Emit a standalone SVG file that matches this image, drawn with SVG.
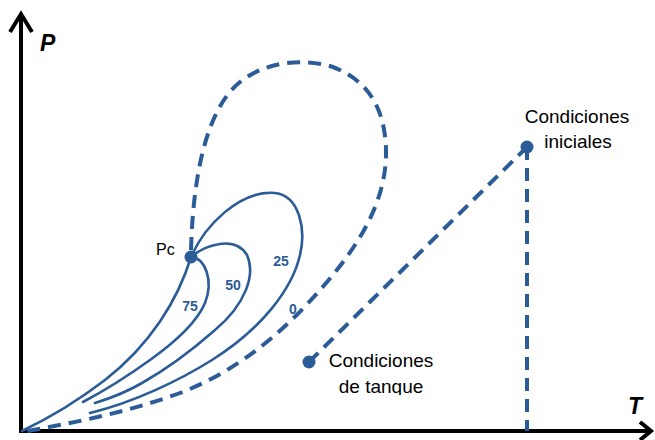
<svg xmlns="http://www.w3.org/2000/svg" width="655" height="440" viewBox="0 0 655 440">
<style>
.ax{fill:none;stroke:#000;stroke-width:4;stroke-linecap:butt;stroke-linejoin:miter}
.sol{fill:none;stroke:#2b5c97;stroke-width:2.6;stroke-linecap:round}
.dash{fill:none;stroke:#2b5c97;stroke-width:4;stroke-dasharray:13 8}
.dot{fill:#2b5c97}
.axl{font-family:"Liberation Sans",Arial,sans-serif;font-weight:bold;font-style:italic;font-size:23px;fill:#000}
.num{font-family:"Liberation Sans",Arial,sans-serif;font-weight:bold;font-size:14px;fill:#2b5c97;text-anchor:middle}
.lbl{font-family:"Liberation Sans",Arial,sans-serif;font-size:19px;fill:#000;text-anchor:middle}
</style>
<defs>
<clipPath id="cut"><rect x="0" y="0" width="655" height="395"/></clipPath>
</defs>
<rect width="655" height="440" fill="#fff"/>
<g id="axes">
<path class="ax" d="M21,433 V15 M10,32 L21,14 L32,32"/>
<path class="ax" d="M19,431 H651 M640,422 L651,431 L640,440"/>
<text class="axl" x="40" y="51">P</text>
<text class="axl" x="628" y="414">T</text>
</g>
<g id="connectors">
<path id="bubble" class="sol" d="M191,257 C178,300 150,345 105,380 C75,403 45,420 22,431"/>
<path id="q75" class="sol" d="M191,257 C205,258 214,280 205,303 C197,322 178,340 150,360 C125,378 100,393 83,402"/>
<path id="q50" class="sol" d="M191,257 C205,245 235,235 247,255 C256,275 245,305 215,330 C190,352 165,370 142,383 C125,393 108,399 95,403"/>
<path id="q25" class="sol" d="M191,257 C205,225 240,190 275,193 C300,196 306,230 300,255 C292,290 260,330 212,360 C180,380 135,402 90,413"/>
<path id="q0" class="dash" d="M191,250 C193,180 205,110 240,82 C265,62 300,58 330,66 C365,78 385,105 386,150 C387,200 360,245 320,290 C285,330 240,370 180,393 C120,415 60,425 22,432"/>
<path id="path-tank" class="dash" d="M309,362 L527,147"/>
<path id="path-vertical" class="dash" d="M527,147 V431"/>
<text class="num" x="190" y="311">75</text>
<text class="num" x="233" y="290">50</text>
<text class="num" x="281" y="266">25</text>
<text class="num" x="293" y="314">0</text>
</g>
<g id="node-pc">
<circle class="dot" cx="191" cy="257" r="6.5"/>
<text x="156" y="255" style="font-family:'Liberation Sans',Arial,sans-serif;font-size:16px;fill:#000">Pc</text>
</g>
<g id="node-inicial">
<circle class="dot" cx="527" cy="147" r="6.5"/>
<text class="lbl" x="577" y="123">Condiciones</text>
<text class="lbl" x="578" y="148">iniciales</text>
</g>
<g id="node-tanque">
<circle class="dot" cx="309" cy="362" r="6.5"/>
<g clip-path="url(#cut)">
<text class="lbl" x="381" y="367">Condiciones</text>
<text class="lbl" x="381" y="393">de tanque</text>
</g>
</g>
</svg>
